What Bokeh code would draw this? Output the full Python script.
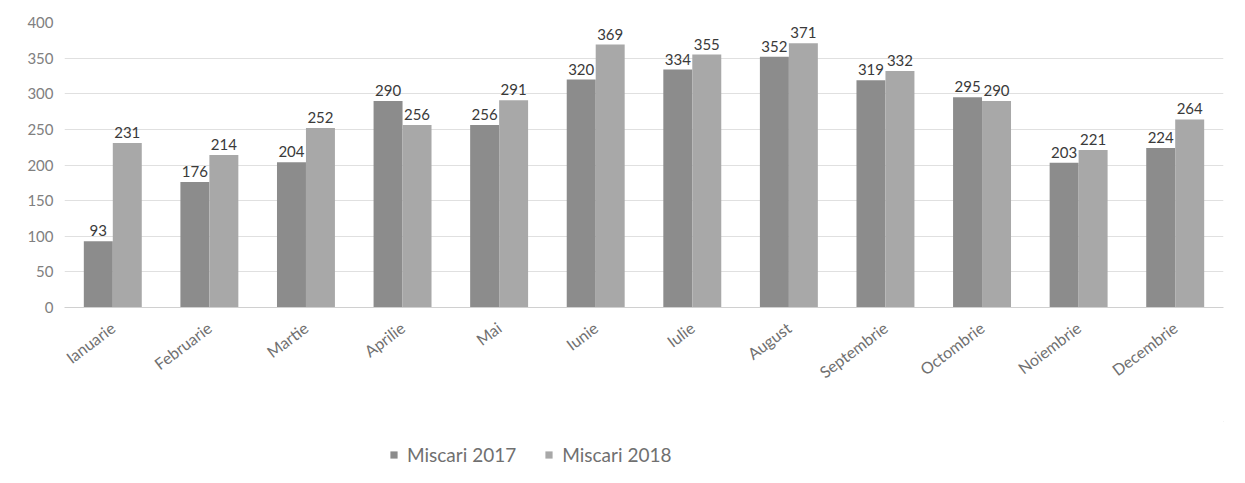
from bokeh.plotting import figure
from bokeh.models import ColumnDataSource, FixedTicker, Legend, LegendItem, LabelSet, Range1d
from bokeh.core.properties import value
from bokeh.layouts import column
from bokeh.transform import dodge
from bokeh.embed import file_html
from bokeh.resources import INLINE
import math

months = ["Ianuarie", "Februarie", "Martie", "Aprilie", "Mai", "Iunie",
          "Iulie", "August", "Septembrie", "Octombrie", "Noiembrie", "Decembrie"]
miscari_2017 = [93, 176, 204, 290, 256, 320, 334, 352, 319, 295, 203, 224]
miscari_2018 = [231, 214, 252, 256, 291, 369, 355, 371, 332, 290, 221, 264]
y_ticks = [0, 50, 100, 150, 200, 250, 300, 350, 400]
series_names = ["Miscari 2017", "Miscari 2018"]
colors = ["#8c8c8c", "#a8a8a8"]

src = ColumnDataSource(dict(m=months, a=miscari_2017, b=miscari_2018,
                            la=[str(v) for v in miscari_2017],
                            lb=[str(v) for v in miscari_2018]))

FONT = "Lato"
p = figure(x_range=months, y_range=(0, 400), width=1229, height=421,
           output_backend="svg", toolbar_location=None,
           min_border_left=64, min_border_right=6, min_border_top=22, min_border_bottom=114)
p.outline_line_color = None

p.vbar(x=dodge("m", -0.15, range=p.x_range), top="a", width=0.3, bottom=0,
       source=src, fill_color=colors[0], line_color=None)
p.vbar(x=dodge("m", 0.15, range=p.x_range), top="b", width=0.3, bottom=0,
       source=src, fill_color=colors[1], line_color=None)

for col, lab, off in (("a", "la", -0.15), ("b", "lb", 0.15)):
    p.add_layout(LabelSet(x=dodge("m", off, range=p.x_range), y=col, text=lab, source=src,
                          text_align="center", text_baseline="bottom", y_offset=5,
                          text_font=value(FONT), text_font_size="15px", text_color="#3a3a3a"))

p.yaxis.ticker = FixedTicker(ticks=y_ticks)
p.yaxis.axis_line_color = None
p.yaxis.major_tick_line_color = None
p.yaxis.minor_tick_line_color = None
p.yaxis.major_label_text_font = FONT
p.yaxis.major_label_text_font_size = "15px"
p.yaxis.major_label_text_color = "#808080"

p.xaxis.axis_line_color = "#d0d0d0"
p.xaxis.major_tick_line_color = None
p.xaxis.major_label_orientation = math.radians(37)
p.xaxis.major_label_text_font = FONT
p.xaxis.major_label_text_font_size = "16px"
p.xaxis.major_label_text_color = "#707070"
p.xaxis.major_label_standoff = 12

p.xgrid.grid_line_color = None
p.ygrid.grid_line_color = "#e0e0e0"

# legend strip
lf = figure(width=1229, height=46, output_backend="svg", toolbar_location=None,
            x_range=Range1d(0, 1), y_range=Range1d(0, 1),
            min_border=0, x_axis_type=None, y_axis_type=None)
lf.outline_line_color = None
lf.grid.visible = False
items = []
for name, c in zip(series_names, colors):
    rr = lf.vbar(x=[5], top=[5], bottom=[4], width=0.1, fill_color=c, line_color=None)
    items.append(LegendItem(label=name, renderers=[rr]))
legend = Legend(items=items, orientation="horizontal", location=(325, 1),
                label_text_font=FONT, label_text_font_size="19px", label_text_color="#707070",
                glyph_width=9, glyph_height=9, spacing=28, padding=0, margin=0,
                label_standoff=9,
                border_line_color=None, background_fill_alpha=0)
lf.add_layout(legend, "center")

open("out.html", "w").write(file_html(column(p, lf, spacing=0), INLINE))
